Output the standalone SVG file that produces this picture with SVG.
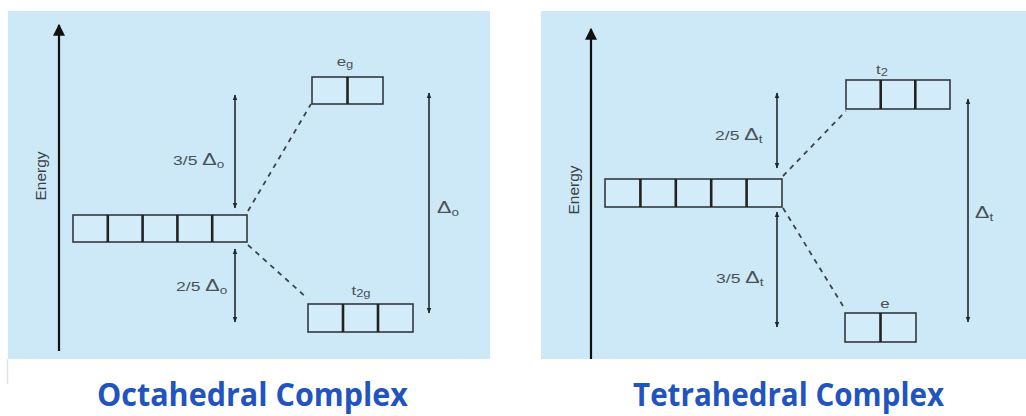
<svg xmlns="http://www.w3.org/2000/svg" width="1026" height="416" viewBox="0 0 1026 416">
<defs>
<marker id="ah" viewBox="0 0 10 10" refX="9" refY="5" markerWidth="6" markerHeight="8" markerUnits="userSpaceOnUse" orient="auto-start-reverse"><path d="M0,1 L10,5 L0,9 Z" fill="#1e2a30"/></marker>
<marker id="ahBig" viewBox="0 0 10 10" refX="9" refY="5" markerWidth="18" markerHeight="12" markerUnits="userSpaceOnUse" orient="auto-start-reverse"><path d="M0,0 L10,5 L0,10 Z" fill="#111"/></marker>
<style>
.panel{fill:#cde9f8}
.box{fill:#d3ecf9;stroke:#33393d;stroke-width:1.6}
.div{stroke:#222;stroke-width:2.6}
.arr{stroke:#1e2a30;stroke-width:1.6;fill:none}
.earr{stroke:#111;stroke-width:2.2;fill:none}
.dash{stroke:#3b4448;stroke-width:1.8;stroke-dasharray:5 5;fill:none}
.lbl{font-family:"Liberation Sans",Arial,sans-serif;font-size:13px;fill:#4a5155}
.en{font-family:"Liberation Sans",Arial,sans-serif;font-size:15.5px;fill:#3a3f42}
.ttl{font-family:"Open Sans","Liberation Sans",sans-serif;font-size:32px;font-weight:bold;fill:#2254bf}
</style>
</defs>
<rect x="0" y="0" width="1026" height="416" fill="#ffffff"/>
<rect class="panel" x="8" y="11" width="482" height="348"/>
<rect class="panel" x="541" y="11" width="485" height="348"/>
<line x1="7.5" y1="359" x2="7.5" y2="384" stroke="#e2e4e6" stroke-width="1.5"/>

<g id="connectors">
<line class="earr" x1="59" y1="351" x2="59" y2="25" marker-end="url(#ahBig)"/>
<line class="arr" x1="235" y1="95" x2="235" y2="208" marker-start="url(#ah)" marker-end="url(#ah)"/>
<line class="arr" x1="235" y1="249" x2="235" y2="322" marker-start="url(#ah)" marker-end="url(#ah)"/>
<line class="arr" x1="429" y1="93" x2="429" y2="313" marker-start="url(#ah)" marker-end="url(#ah)"/>
<line class="dash" x1="248" y1="211" x2="311" y2="104"/>
<line class="dash" x1="248" y1="245" x2="307" y2="298"/>
<line class="earr" x1="591" y1="359" x2="591" y2="29" marker-end="url(#ahBig)"/>
<line class="arr" x1="777" y1="93" x2="777" y2="168" marker-start="url(#ah)" marker-end="url(#ah)"/>
<line class="arr" x1="777" y1="212" x2="777" y2="327" marker-start="url(#ah)" marker-end="url(#ah)"/>
<line class="arr" x1="968" y1="99" x2="968" y2="322" marker-start="url(#ah)" marker-end="url(#ah)"/>
<line class="dash" x1="783" y1="176" x2="846" y2="111"/>
<line class="dash" x1="783" y1="208" x2="843" y2="306"/>
</g>

<g id="oct-d">
<rect class="box" x="73" y="215" width="174" height="27"/>
<line class="div" x1="107.8" y1="215" x2="107.8" y2="242"/>
<line class="div" x1="142.6" y1="215" x2="142.6" y2="242"/>
<line class="div" x1="177.4" y1="215" x2="177.4" y2="242"/>
<line class="div" x1="212.2" y1="215" x2="212.2" y2="242"/>
</g>
<g id="oct-eg">
<rect class="box" x="312" y="77" width="71" height="27"/>
<line class="div" x1="347.5" y1="77" x2="347.5" y2="104"/>
<text class="lbl" transform="translate(345,66) scale(1.3,1)" text-anchor="middle">e<tspan font-size="10" dy="2">g</tspan></text>
</g>
<g id="oct-t2g">
<rect class="box" x="308" y="304" width="105" height="28"/>
<line class="div" x1="343" y1="304" x2="343" y2="332"/>
<line class="div" x1="378" y1="304" x2="378" y2="332"/>
<text class="lbl" transform="translate(361,295) scale(1.3,1)" text-anchor="middle">t<tspan font-size="10" dy="2">2g</tspan></text>
</g>
<g id="oct-labels">
<text class="en" transform="translate(46,176) rotate(-90)" text-anchor="middle">Energy</text>
<text class="lbl" transform="translate(173,165) scale(1.35,1)">3/5 <tspan font-size="16">Δ</tspan><tspan font-size="10" dy="3">o</tspan></text>
<text class="lbl" transform="translate(176,291) scale(1.35,1)">2/5 <tspan font-size="16">Δ</tspan><tspan font-size="10" dy="3">o</tspan></text>
<text class="lbl" transform="translate(437,213) scale(1.35,1)"><tspan font-size="16">Δ</tspan><tspan font-size="10" dy="3">o</tspan></text>
<text class="ttl" x="97" y="406" textLength="311" lengthAdjust="spacingAndGlyphs">Octahedral Complex</text>
</g>

<g id="tet-d">
<rect class="box" x="605" y="179" width="177" height="28"/>
<line class="div" x1="640.4" y1="179" x2="640.4" y2="207"/>
<line class="div" x1="675.8" y1="179" x2="675.8" y2="207"/>
<line class="div" x1="711.2" y1="179" x2="711.2" y2="207"/>
<line class="div" x1="746.6" y1="179" x2="746.6" y2="207"/>
</g>
<g id="tet-t2">
<rect class="box" x="846" y="80" width="104" height="29"/>
<line class="div" x1="880.7" y1="80" x2="880.7" y2="109"/>
<line class="div" x1="915.3" y1="80" x2="915.3" y2="109"/>
<text class="lbl" transform="translate(882,74) scale(1.3,1)" text-anchor="middle">t<tspan font-size="10" dy="2">2</tspan></text>
</g>
<g id="tet-e">
<rect class="box" x="845" y="313" width="71" height="29"/>
<line class="div" x1="880.5" y1="313" x2="880.5" y2="342"/>
<text class="lbl" transform="translate(885,308) scale(1.3,1)" text-anchor="middle">e</text>
</g>
<g id="tet-labels">
<text class="en" transform="translate(579,190) rotate(-90)" text-anchor="middle">Energy</text>
<text class="lbl" transform="translate(715,140) scale(1.35,1)">2/5 <tspan font-size="16">Δ</tspan><tspan font-size="10" dy="3">t</tspan></text>
<text class="lbl" transform="translate(716,283) scale(1.35,1)">3/5 <tspan font-size="16">Δ</tspan><tspan font-size="10" dy="3">t</tspan></text>
<text class="lbl" transform="translate(975,218) scale(1.35,1)"><tspan font-size="16">Δ</tspan><tspan font-size="10" dy="3">t</tspan></text>
<text class="ttl" x="633" y="406" textLength="311" lengthAdjust="spacingAndGlyphs">Tetrahedral Complex</text>
</g>
</svg>
